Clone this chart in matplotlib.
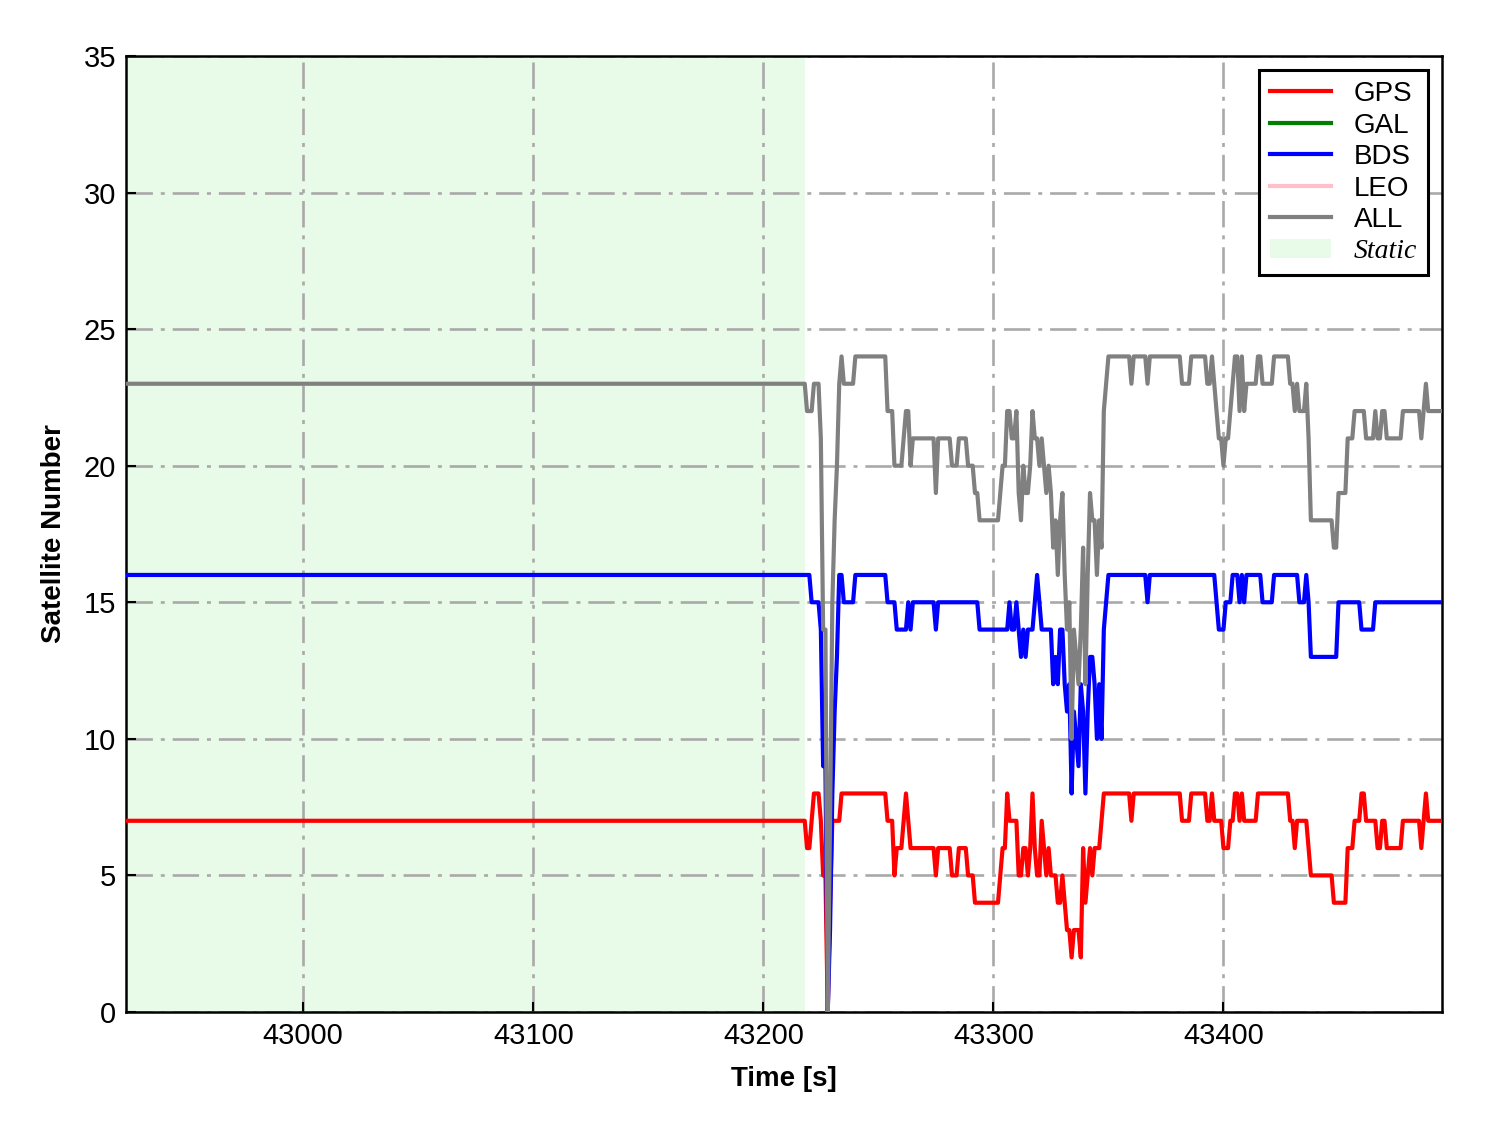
import numpy as np
import matplotlib
matplotlib.use("Agg")
import matplotlib.pyplot as plt
from matplotlib.patches import Patch
from matplotlib.lines import Line2D

plt.rcParams['font.family'] = ['Liberation Sans', 'DejaVu Sans']

# ---- data ----
T_START, T_END = 42923, 43495          # seconds, 1 s sampling
STATIC_END = 43218                      # end of the static period

# GPS: change points (time) and the value holding from that time on
GPS_T = [42923, 43219, 43221, 43222, 43225, 43226, 43228, 43229, 43230, 43234,
         43254, 43257, 43258, 43261, 43262, 43263, 43264, 43275, 43276, 43282,
         43285, 43289, 43292, 43303, 43304, 43306, 43307, 43311, 43313, 43315,
         43316, 43317, 43318, 43319, 43321, 43322, 43323, 43324, 43325, 43328,
         43330, 43331, 43332, 43334, 43335, 43338, 43339, 43340, 43341, 43342,
         43343, 43344, 43347, 43348, 43360, 43361, 43382, 43386, 43393, 43395,
         43396, 43400, 43403, 43405, 43407, 43408, 43409, 43415, 43429, 43431,
         43432, 43437, 43438, 43448, 43454, 43457, 43460, 43462, 43467, 43469,
         43471, 43478, 43486, 43487, 43488, 43489]
GPS_V = [7, 6, 7, 8, 7, 5, 0, 4, 7, 8,
         7, 5, 6, 7, 8, 7, 6, 5, 6, 5,
         6, 5, 4, 5, 6, 8, 7, 5, 6, 5,
         6, 8, 6, 5, 7, 6, 5, 6, 5, 4,
         5, 4, 3, 2, 3, 2, 6, 4, 5, 6,
         5, 6, 7, 8, 7, 8, 7, 8, 7, 8,
         7, 6, 7, 8, 7, 8, 7, 8, 7, 6,
         7, 6, 5, 4, 6, 7, 8, 7, 6, 7,
         6, 7, 6, 7, 8, 7]

# BDS: change points and values
BDS_T = [42923, 43221, 43225, 43226, 43228, 43229, 43230, 43231, 43232, 43233,
         43235, 43240, 43254, 43258, 43263, 43264, 43265, 43275, 43276, 43294,
         43307, 43308, 43310, 43311, 43312, 43313, 43314, 43315, 43318, 43319,
         43320, 43321, 43326, 43327, 43328, 43329, 43331, 43332, 43333, 43334,
         43335, 43336, 43337, 43338, 43339, 43340, 43341, 43342, 43344, 43345,
         43346, 43347, 43348, 43349, 43350, 43367, 43368, 43397, 43398, 43401,
         43404, 43407, 43408, 43409, 43410, 43417, 43422, 43433, 43436, 43437,
         43438, 43450, 43460, 43466]
BDS_V = [16, 15, 14, 9, 0, 3, 8, 11, 13, 16,
         15, 16, 15, 14, 15, 14, 15, 14, 15, 14,
         15, 14, 15, 14, 13, 14, 13, 14, 15, 16,
         15, 14, 12, 13, 12, 14, 12, 11, 12, 8,
         11, 10, 9, 12, 11, 8, 11, 13, 12, 10,
         12, 10, 14, 15, 16, 15, 16, 15, 14, 15,
         16, 15, 16, 15, 16, 15, 16, 15, 16, 15,
         13, 15, 14, 15]

LABELS = ['GPS', 'GAL', 'BDS', 'LEO', 'ALL']
COLORS = ['red', 'green', 'blue', 'pink', 'gray']

X_TICKS = [43000, 43100, 43200, 43300, 43400]
Y_TICKS = [0, 5, 10, 15, 20, 25, 30, 35]


def expand(tchg, vals, t):
    idx = np.searchsorted(np.asarray(tchg), t, side='right') - 1
    return np.asarray(vals, dtype=float)[idx]


t = np.arange(T_START, T_END + 1)
gps = expand(GPS_T, GPS_V, t)
bds = expand(BDS_T, BDS_V, t)
allsat = gps + bds   # GAL and LEO contribute no satellites here

series = {'GPS': gps, 'GAL': None, 'BDS': bds, 'LEO': None, 'ALL': allsat}

fig = plt.figure(figsize=(14.88, 11.33), dpi=100)
ax = fig.add_axes([0.0847, 0.1068, 0.8844, 0.8438])

ax.axvspan(T_START, STATIC_END, color='lightgreen', alpha=0.2, lw=0, zorder=0)

handles = []
for lab, col in zip(LABELS, COLORS):
    y = series[lab]
    if y is not None:
        ax.plot(t, y, color=col, lw=3.0, zorder=3)
    handles.append(Line2D([], [], color=col, lw=3.0, label=lab))
handles.append(Patch(facecolor='lightgreen', alpha=0.2, edgecolor='none', label='Static'))

ax.set_xlim(T_START, T_END)
ax.set_ylim(0, 35)
ax.set_xticks(X_TICKS)
ax.set_yticks(Y_TICKS)
ax.grid(True, color='darkgray', lw=1.9, linestyle=(0, (10, 3, 1.5, 3)))
ax.set_axisbelow(True)

ax.tick_params(direction='in', length=7, width=1.5, labelsize=21, pad=7)
for s in ax.spines.values():
    s.set_linewidth(1.8)
    s.set_color('black')

ax.set_xlabel('Time [s]', fontsize=20, fontweight='bold', labelpad=12)
ax.set_ylabel('Satellite Number', fontsize=20, fontweight='bold', labelpad=12)

leg = ax.legend(handles=handles, loc='upper right', fontsize=20, frameon=True,
                fancybox=False, framealpha=1, edgecolor='black',
                handlelength=2.2, handletextpad=0.8, labelspacing=0.2,
                borderpad=0.4, borderaxespad=0.5)
leg.get_frame().set_linewidth(2.2)
st = leg.get_texts()[-1]
st.set_fontfamily(['Liberation Serif', 'DejaVu Serif'])
st.set_fontstyle('italic')

fig.savefig('out.png', dpi=100)
